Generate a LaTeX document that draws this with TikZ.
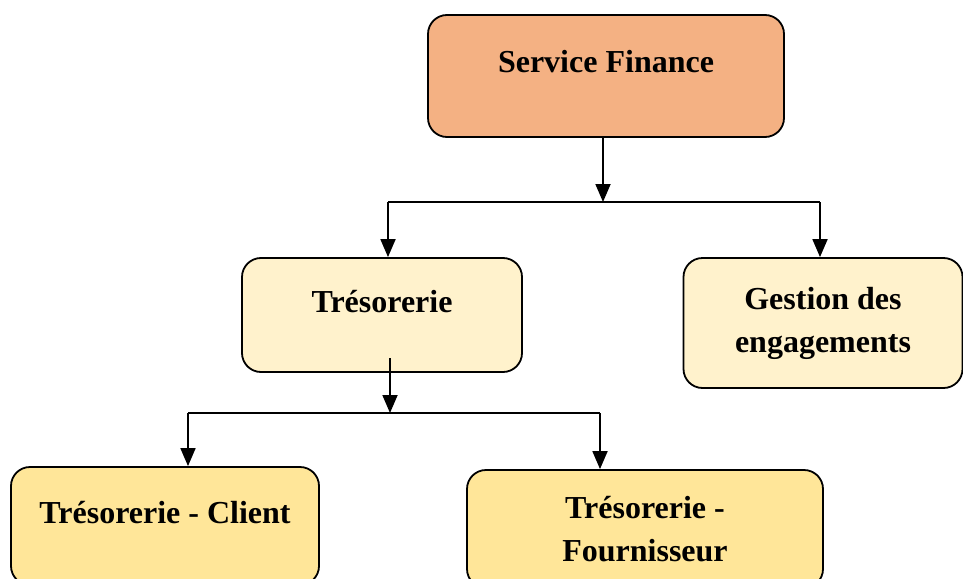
\documentclass[tikz,border=0pt]{standalone}
\usepackage{fontspec}
\setmainfont{Liberation Serif}
\usetikzlibrary{arrows.meta, positioning}
\definecolor{finorange}{HTML}{F4B183}
\definecolor{lightcream}{HTML}{FFF2CC}
\definecolor{softgold}{HTML}{FFE699}

\begin{document}
\begin{tikzpicture}[x=1pt, y=-1pt,
    unit/.style={draw, line width=1.8pt, rounded corners=19pt, inner sep=0pt, align=center,
      font=\fontsize{32}{43}\selectfont\bfseries},
    oneline/.style={text height=22pt, text depth=28pt},
    arr/.style={line width=1.8pt, -{Triangle[length=18pt, width=15pt]}},
    bus/.style={line width=1.8pt}]
    \useasboundingbox (0,0) rectangle (963,578);

    % Blocks
    \node[unit, oneline, fill=finorange, minimum width=356pt, minimum height=122pt] (fin) at (606,76) {Service Finance};
    \node[unit, oneline, fill=lightcream, minimum width=280pt, minimum height=114pt] (tres) at (382,315) {Trésorerie};
    \node[unit, fill=lightcream, minimum width=279pt, minimum height=130pt] (gest) at (823,323) {Gestion des\\engagements};
    \node[unit, oneline, fill=softgold, minimum width=308pt, minimum height=118pt] (client) at (165,526) {Trésorerie - Client};
    \node[unit, fill=softgold, minimum width=356pt, minimum height=118pt] (fourn) at (645,529) {Trésorerie -\\Fournisseur};

    % Connectors
    \coordinate (topbus) at (603,202);
    \coordinate (topleft) at (388,202);
    \coordinate (topright) at (820,202);
    \draw[arr] (fin.south -| topbus) -- (topbus);
    \draw[bus] (topleft) -- (topright);
    \draw[arr] (topleft) -- (topleft |- tres.north);
    \draw[arr] (topright) -- (topright |- gest.north);

    \coordinate (midstart) at (390,358);
    \coordinate (midbus) at (390,413);
    \coordinate (midleft) at (188,413);
    \coordinate (midright) at (600,413);
    \draw[arr] (midstart) -- (midbus);
    \draw[bus] (midleft) -- (midright);
    \draw[arr] (midleft) -- (midleft |- client.north);
    \draw[arr] (midright) -- (midright |- fourn.north);
\end{tikzpicture}
\end{document}
